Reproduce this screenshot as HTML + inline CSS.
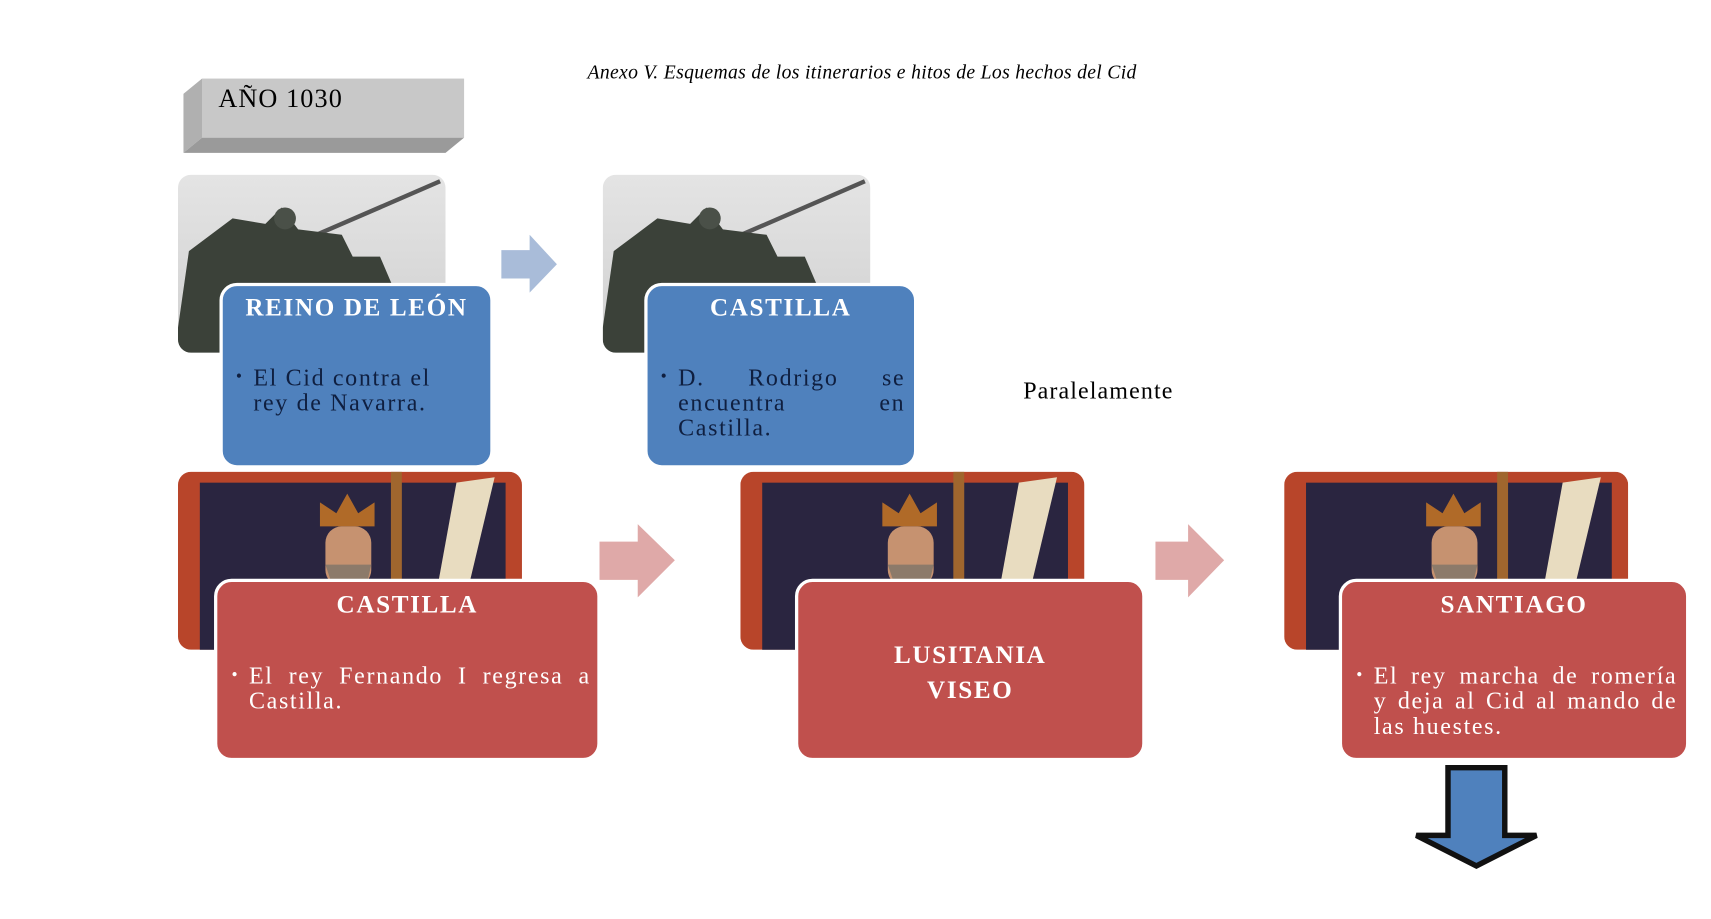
<!DOCTYPE html>
<html><head><meta charset="utf-8"><style>
body{margin:0;width:1711px;height:919px;background:#fff;position:relative;overflow:hidden;font-family:"Liberation Serif",serif}
#w{position:absolute;left:0;top:0;width:1560px;height:838px;transform:scale(1.092);transform-origin:0 0}
.a{position:absolute}
.box{position:absolute;border-radius:16px;border:3px solid #fff;box-sizing:border-box;color:#fff}
.blue{background:#4f81bd}
.red{background:#c0504d}
.t{position:absolute;left:0;right:0;text-align:center;font-weight:bold;font-size:23px;letter-spacing:1.5px}
.b{position:absolute;font-size:22px;letter-spacing:1.5px;line-height:23px;text-align:justify}
.b:before{content:"•";position:absolute;left:-16px;font-size:16px}
.img{position:absolute;border-radius:12px;overflow:hidden}
</style></head><body><div id="w">
<div class="a" style="left:538px;top:56px;font-size:18px;letter-spacing:0.3px;font-style:italic">Anexo V. Esquemas de los itinerarios e hitos de Los hechos del Cid</div>
<svg class="a" style="left:166px;top:70px" width="262" height="74">
<polygon points="19,2 259,2 242,16 2,16" fill="#e0e0e0"/>
<polygon points="2,16 19,2 19,56 2,70" fill="#b0b0b0"/>
<polygon points="2,70 19,56 259,56 242,70" fill="#9a9a9a"/>
<rect x="19" y="2" width="240" height="54" fill="#c8c8c8"/>
</svg>
<div class="a" style="left:200px;top:78px;font-size:24px;letter-spacing:1px">AÑO 1030</div>

<svg width="0" height="0" style="position:absolute"><defs>
<linearGradient id="sky" x1="0" y1="0" x2="0" y2="1"><stop offset="0" stop-color="#e4e4e4"/><stop offset="1" stop-color="#d0d0d0"/></linearGradient>
<g id="statue"><rect width="245" height="163" fill="url(#sky)"/>
<line x1="120" y1="58" x2="240" y2="6" stroke="#555" stroke-width="4"/>
<path d="M10,70 L50,40 L80,45 L95,30 L110,50 L150,55 L160,75 L185,75 L200,110 L200,163 L0,163 L0,140 Z" fill="#3b4139"/>
<circle cx="98" cy="40" r="10" fill="#4a5048"/></g>
<g id="king"><rect width="315" height="163" fill="#b8452a"/><rect x="20" y="10" width="280" height="160" fill="#2a2540"/>
<rect x="195" y="0" width="10" height="163" fill="#a0662e"/>
<path d="M130,50 L130,28 L145,38 L155,20 L165,38 L180,28 L180,50 Z" fill="#b06a28"/>
<rect x="135" y="50" width="42" height="55" rx="15" fill="#c69270"/>
<path d="M135,85 L177,85 L170,115 L145,115 Z" fill="#8c7a6a"/>
<path d="M255,10 L290,5 L265,110 L235,120 Z" fill="#e8dcc0"/></g>
</defs></svg>

<svg class="img" style="left:163px;top:160px" width="245" height="163"><use href="#statue"/></svg>
<svg class="img" style="left:552px;top:160px" width="245" height="163"><use href="#statue"/></svg>
<svg class="img" style="left:163px;top:432px" width="315" height="163"><use href="#king"/></svg>
<svg class="img" style="left:678px;top:432px" width="315" height="163"><use href="#king"/></svg>
<svg class="img" style="left:1176px;top:432px" width="315" height="163"><use href="#king"/></svg>

<svg class="a" style="left:459px;top:215px" width="52" height="55"><polygon points="0,14 26,14 26,0 51,27 26,53 26,40 0,40" fill="#a9bcd9"/></svg>
<svg class="a" style="left:549px;top:480px" width="70" height="68"><polygon points="0,16 35,16 35,0 69,33 35,67 35,51 0,51" fill="#dfa9a8"/></svg>
<svg class="a" style="left:1058px;top:480px" width="64" height="68"><polygon points="0,16 30,16 30,0 63,33 30,67 30,51 0,51" fill="#dfa9a8"/></svg>

<div class="box blue" style="left:201px;top:259px;width:251px;height:170px">
<div class="t" style="top:7px">REINO DE LEÓN</div>
<div class="b" style="left:28px;top:72px;width:200px;color:#0f1f40;text-align:left">El Cid contra el rey de Navarra.</div></div>
<div class="box blue" style="left:590px;top:259px;width:250px;height:170px">
<div class="t" style="top:7px">CASTILLA</div>
<div class="b" style="left:28px;top:72px;width:208px;color:#0f1f40">D. Rodrigo se encuentra en Castilla.</div></div>

<div class="a" style="left:937px;top:345px;font-size:22px;letter-spacing:1px">Paralelamente</div>

<div class="box red" style="left:196px;top:530px;width:354px;height:167px">
<div class="t" style="top:8px">CASTILLA</div>
<div class="b" style="left:29px;top:74px;width:313px">El rey Fernando I regresa a Castilla.</div></div>
<div class="box red" style="left:728px;top:530px;width:321px;height:167px">
<div class="t" style="top:51px;line-height:32px">LUSITANIA<br>VISEO</div></div>
<div class="box red" style="left:1226px;top:530px;width:321px;height:167px">
<div class="t" style="top:8px">SANTIAGO</div>
<div class="b" style="left:29px;top:74px;width:278px">El rey marcha de romería y deja al Cid al mando de las huestes.</div></div>

<svg class="a" style="left:1292px;top:700px" width="120" height="97"><polygon points="34,3 86,3 86,65 115,65 60,93 5,65 34,65" fill="#4f81bd" stroke="#111" stroke-width="5"/></svg>
</div></body></html>
